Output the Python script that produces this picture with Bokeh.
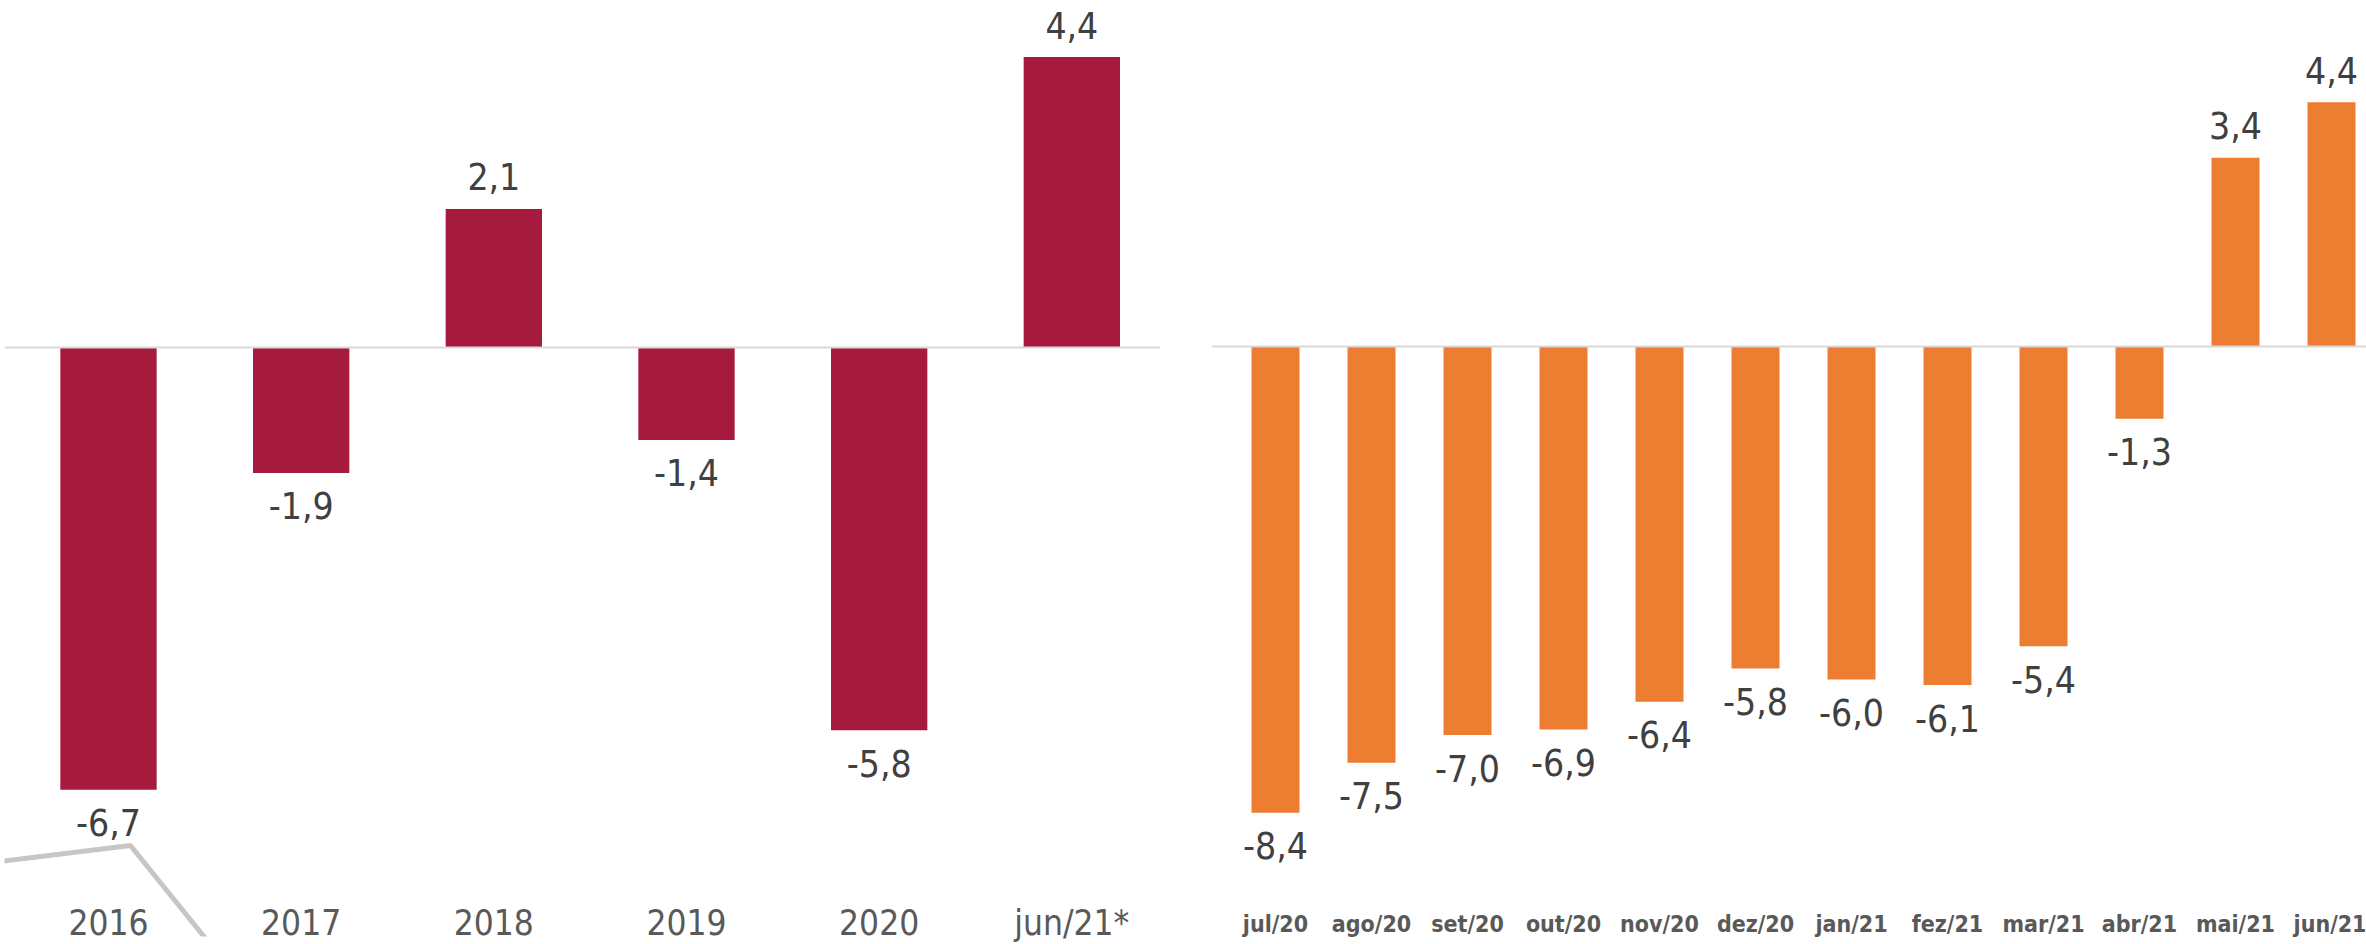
from bokeh.plotting import figure
from bokeh.models import ColumnDataSource, Span, FixedTicker, Range1d
from bokeh.layouts import row
from bokeh.core.properties import value
from bokeh.embed import file_html
from bokeh.resources import INLINE

# ---- data ----
years = ["2016", "2017", "2018", "2019", "2020", "jun/21*"]
annual = [-6.7, -1.9, 2.1, -1.4, -5.8, 4.4]

months = ["jul/20", "ago/20", "set/20", "out/20", "nov/20", "dez/20",
          "jan/21", "fez/21", "mar/21", "abr/21", "mai/21", "jun/21"]
monthly = [-8.4, -7.5, -7.0, -6.9, -6.4, -5.8, -6.0, -6.1, -5.4, -1.3, 3.4, 4.4]

# stray grey line visible at lower-left of the picture (x in category units, y in value units)
deco_x = [-0.6, 0.114, 0.53]
deco_y = [-7.80, -7.545, -9.05]

LABEL_FONT = "DejaVu Sans Condensed"


def fmt(v):
    return f"{v:.1f}".replace(".", ",")


def make(cats, vals, color, frame_w, frame_h, x_start, x_end, y_start, y_end,
         mb_left, mb_right, tick_font, tick_size, tick_style, standoff):
    n = len(cats)
    p = figure(frame_width=frame_w, frame_height=frame_h,
               x_range=Range1d(x_start, x_end), y_range=Range1d(y_start, y_end),
               output_backend="svg", toolbar_location=None,
               y_axis_location=None, min_border_left=mb_left,
               min_border_right=mb_right, min_border_top=0, min_border_bottom=0)
    p.outline_line_color = None
    p.grid.visible = False
    p.background_fill_color = "white"
    p.border_fill_color = "white"

    xs = list(range(n))
    src = ColumnDataSource(dict(
        x=xs, top=vals,
        label=[fmt(v) for v in vals],
        yoff=[-32 if v >= 0 else 33 for v in vals],
    ))
    p.vbar(x="x", top="top", bottom=0, width=0.5, source=src,
           fill_color=color, line_color=None)
    p.add_layout(Span(location=0, dimension="width",
                      line_color="#D9D9D9", line_width=2))
    p.text(x="x", y="top", text="label", y_offset="yoff", source=src,
           text_align="center", text_baseline="alphabetic",
           text_font=value(LABEL_FONT), text_font_size="37px",
           text_color="#404040")

    ax = p.xaxis[0]
    ax.ticker = FixedTicker(ticks=xs)
    ax.major_label_overrides = {i: c for i, c in enumerate(cats)}
    ax.axis_line_color = None
    ax.major_tick_line_color = None
    ax.minor_tick_line_color = None
    ax.major_label_text_font = tick_font
    ax.major_label_text_font_size = tick_size
    ax.major_label_text_font_style = tick_style
    ax.major_label_text_color = "#595959"
    ax.major_label_standoff = standoff
    return p


# left chart: 192.67 px per category, 66 px per unit, baseline at y 347
L_UNIT = 1156 / 6.0
L_H = 936
l_start = -(108 - 4) / L_UNIT
p1 = make(years, annual, "#A51A3D", 1156, L_H, l_start, l_start + 1156 / L_UNIT,
          -(L_H - 347) / 66.0, 347 / 66.0,
          4, 24, LABEL_FONT, "35px", "normal", -40)
p1.line(deco_x, deco_y, line_color="#C8C6C4", line_width=5, level="underlay")

# right chart: 96 px per category, 55.5 px per unit, baseline at y 346
R_W = 1155
r_start = -(1275 - 1211) / 96.0
p2 = make(months, monthly, "#ED7D31", R_W, 862, r_start, r_start + R_W / 96.0,
          -(862 - 346) / 55.5, 346 / 55.5,
          27, 0, LABEL_FONT, "23px", "bold", 42)

layout = row(p1, p2)
open("out.html", "w").write(file_html(layout, INLINE))
